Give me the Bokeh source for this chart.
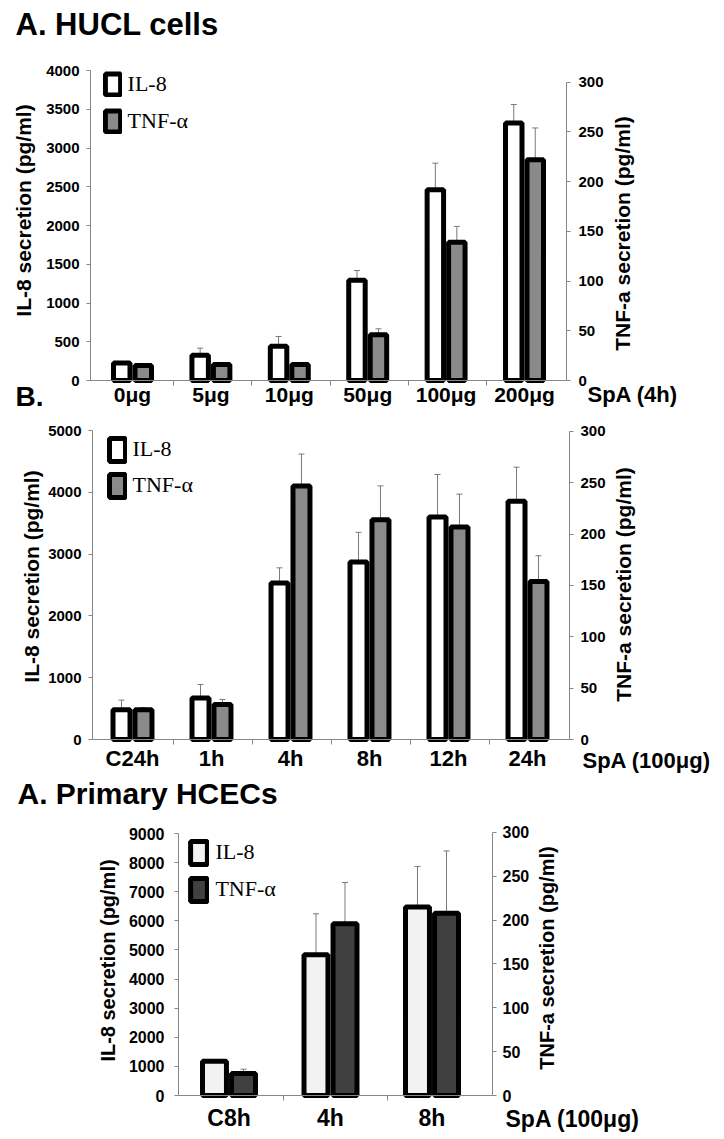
from math import pi
from bokeh.plotting import figure
from bokeh.models import (Range1d, LinearAxis, FixedTicker, Whisker, TeeHead,
                          ColumnDataSource, Legend, LegendItem, Label)
from bokeh.layouts import column
from bokeh.embed import file_html
from bokeh.resources import INLINE

# ---------------- data ----------------
hucl_doses = ["0μg", "5μg", "10μg", "50μg", "100μg", "200μg"]
hucl_il8 = [226, 325, 441, 1293, 2462, 3323]
hucl_il8_err = [0, 92, 127, 126, 342, 238]
hucl_tnf = [15, 16, 16, 46, 139, 222]
hucl_tnf_err = [0, 0, 0, 6, 16, 32]

time_labels = ["C24h", "1h", "4h", "8h", "12h", "24h"]
time_il8 = [482, 672, 2532, 2872, 3600, 3854]
time_il8_err = [155, 218, 246, 480, 688, 552]
time_tnf = [29, 34, 247, 214, 207, 154]
time_tnf_err = [2, 5, 31, 33, 32, 25]

hcec_labels = ["C8h", "4h", "8h"]
hcec_il8 = [1175, 4837, 6475]
hcec_il8_err = [0, 1405, 1392]
hcec_tnf = [25, 196, 208]
hcec_tnf_err = [5, 47, 71]

ticks_il8_a = [0, 500, 1000, 1500, 2000, 2500, 3000, 3500, 4000]
ticks_il8_b = [0, 1000, 2000, 3000, 4000, 5000]
ticks_il8_c = [0, 1000, 2000, 3000, 4000, 5000, 6000, 7000, 8000, 9000]
ticks_tnf = [0, 50, 100, 150, 200, 250, 300]

y_title_left = "IL-8 secretion (pg/ml)"
y_title_right = "TNF-a secretion (pg/ml)"

AX = "#878787"
ERR = "#7a7a7a"
SANS = "Liberation Sans"
SERIF = "Liberation Serif"
W = 724


def style_y(ax, size, standoff):
    ax.axis_line_color = AX
    ax.major_tick_line_color = AX
    ax.major_tick_out = 4
    ax.major_tick_in = 0
    ax.minor_tick_line_color = None
    ax.major_label_text_font = SANS
    ax.major_label_text_font_size = size
    ax.major_label_text_font_style = "bold"
    ax.major_label_text_color = "black"
    ax.major_label_standoff = standoff


def panel(cats, il8, il8_err, tnf, tnf_err, g):
    # g holds page-pixel geometry of the reference panel
    top, h = g["top"], g["h"]
    cx, pu, y0, lp, rp = g["cx1"], g["pxu"], g["y0"], g["lpx"], g["rpx"]

    def X(px):
        return 1 + (px - cx) / pu

    def YL(py):
        return (y0 - py) / lp

    def YR(py):
        return (y0 - py) / rp

    p = figure(frame_width=W, frame_height=h,
               x_range=Range1d(X(0), X(W)), y_range=Range1d(YL(top + h), YL(top)),
               x_axis_type=None, y_axis_type=None, min_border=0,
               output_backend="svg", toolbar_location=None)
    p.outline_line_color = None
    p.extra_y_ranges = {"right": Range1d(YR(top + h), YR(top))}

    n = len(cats)
    xs = list(range(1, n + 1))
    off, w = g["off"], g["bw"]
    xi = [x - off for x in xs]
    xt = [x + off for x in xs]
    src = ColumnDataSource(dict(xi=xi, xt=xt, il8=il8, tnf=tnf))

    def whisk(xpos, vals, errs, rng=None):
        pts = [(a, b, b + e) for a, b, e in zip(xpos, vals, errs) if e > 0]
        if not pts:
            return
        ws = ColumnDataSource(dict(x=[q[0] for q in pts], lo=[q[1] for q in pts],
                                   hi=[q[2] for q in pts]))
        wk = Whisker(source=ws, base="x", lower="lo", upper="hi", dimension="height",
                     line_color=ERR, line_width=1, lower_head=None,
                     upper_head=TeeHead(size=6, line_color=ERR, line_width=1),
                     level="underlay")
        if rng:
            wk.y_range_name = rng
        p.add_layout(wk)

    whisk(xi, il8, il8_err)
    whisk(xt, tnf, tnf_err, "right")

    r1 = p.vbar(x="xi", top="il8", bottom=0, width=w, source=src,
                fill_color=g["il8_fill"], line_color="black", line_width=5)
    r2 = p.vbar(x="xt", top="tnf", bottom=0, width=w, source=src,
                fill_color=g["tnf_fill"], line_color="black", line_width=5,
                y_range_name="right")

    xl, xr = X(g["axl"]), X(g["axr"])
    yl = LinearAxis(fixed_location=xl, bounds=(0, g["lticks"][-1]),
                    ticker=FixedTicker(ticks=g["lticks"]))
    style_y(yl, g["tfont"], g["lstand"])
    p.add_layout(yl, "left")
    yr = LinearAxis(fixed_location=xr, y_range_name="right", bounds=(0, 300),
                    ticker=FixedTicker(ticks=ticks_tnf))
    style_y(yr, g["tfont"], g["rstand"])
    p.add_layout(yr, "right")

    xa = LinearAxis(fixed_location=0, bounds=(xl, xr),
                    ticker=FixedTicker(ticks=xs, minor_ticks=g["minor"]))
    xa.major_label_overrides = {x: lab for x, lab in zip(xs, cats)}
    xa.major_tick_line_color = None
    xa.major_tick_out = 0
    xa.minor_tick_line_color = AX
    xa.minor_tick_out = 5
    xa.minor_tick_in = 0
    xa.axis_line_color = AX
    xa.major_label_text_font = SANS
    xa.major_label_text_font_size = g["xfont"]
    xa.major_label_text_font_style = "bold"
    xa.major_label_text_color = "black"
    xa.major_label_standoff = g["xstand"]
    p.add_layout(xa, "below")

    lx, ly_top, lh = g["leg"]
    lg = Legend(items=[LegendItem(label="IL-8", renderers=[r1]),
                       LegendItem(label="TNF-α", renderers=[r2])],
                location=(lx, top + h - (ly_top + lh)),
                glyph_width=g["gw"], glyph_height=g["gh"],
                spacing=g["gsp"], padding=0, margin=0, label_standoff=6,
                label_text_font=SERIF, label_text_font_size="22px",
                label_text_color="black",
                border_line_color=None, background_fill_alpha=0)
    p.add_layout(lg)

    # texts: (text, page x, page y of text centre line, font size, rotated)
    for (txt, px, py, size, rot) in g["texts"]:
        if rot:
            lab = Label(x=X(px), y=YL(py), text=txt, angle=pi / 2,
                        text_align="center", text_baseline="middle")
        else:
            lab = Label(x=X(px), y=YL(py), text=txt,
                        text_align="left", text_baseline="middle")
        lab.text_font = SANS
        lab.text_font_size = size
        lab.text_font_style = "bold"
        lab.text_color = "black"
        p.add_layout(lab)
    return p


geo_a = dict(top=0, h=412, cx1=132, pxu=78.4, y0=380, lpx=0.0775, rpx=0.9943,
             axl=90, axr=566, off=0.137, bw=0.21,
             minor=[1.52, 2.52, 3.52, 4.52, 5.52],
             lticks=ticks_il8_a, tfont="15px", lstand=7, rstand=8,
             xfont="21px", xstand=-3,
             il8_fill="white", tnf_fill="#8a8a8a",
             leg=(102.6, 71, 63), gw=19, gh=26, gsp=11,
             texts=[("A. HUCL cells", 15, 23.5, "31px", False),
                    ("B.", 15, 396, "28px", False),
                    ("SpA (4h)", 587, 394, "22px", False),
                    (y_title_left, 23, 210, "21px", True),
                    (y_title_right, 622, 233, "21px", True)])
geo_b = dict(top=412, h=362, cx1=132, pxu=79.0, y0=739, lpx=0.0618, rpx=1.02667,
             axl=92, axr=569, off=0.139, bw=0.215,
             minor=[1.52, 2.52, 3.52, 4.52, 5.52],
             lticks=ticks_il8_b, tfont="15px", lstand=7, rstand=7,
             xfont="22px", xstand=1,
             il8_fill="white", tnf_fill="#8a8a8a",
             leg=(106.5, 434.6, 65), gw=20, gh=29, gsp=7,
             texts=[("SpA (100μg)", 582, 759.5, "22px", False),
                    (y_title_left, 31, 576, "21px", True),
                    (y_title_right, 623, 584, "21px", True)])
geo_c = dict(top=774, h=365, cx1=228.5, pxu=101.5, y0=1095, lpx=0.0291111, rpx=0.876667,
             axl=178, axr=492, off=0.143, bw=0.236, minor=[1.54, 2.56],
             lticks=ticks_il8_c, tfont="16px", lstand=10, rstand=6,
             xfont="23px", xstand=4,
             il8_fill="#f2f2f2", tnf_fill="#404040",
             leg=(188.4, 837.6, 66), gw=21, gh=29, gsp=8,
             texts=[("A. Primary HCECs", 17, 793, "30px", False),
                    ("SpA (100μg)", 505, 1118, "23px", False),
                    (y_title_left, 107, 960, "20px", True),
                    (y_title_right, 546, 957.5, "20px", True)])

pa = panel(hucl_doses, hucl_il8, hucl_il8_err, hucl_tnf, hucl_tnf_err, geo_a)
pb = panel(time_labels, time_il8, time_il8_err, time_tnf, time_tnf_err, geo_b)
pc = panel(hcec_labels, hcec_il8, hcec_il8_err, hcec_tnf, hcec_tnf_err, geo_c)

layout = column(pa, pb, pc, spacing=0)
open("out.html", "w").write(file_html(layout, INLINE))
